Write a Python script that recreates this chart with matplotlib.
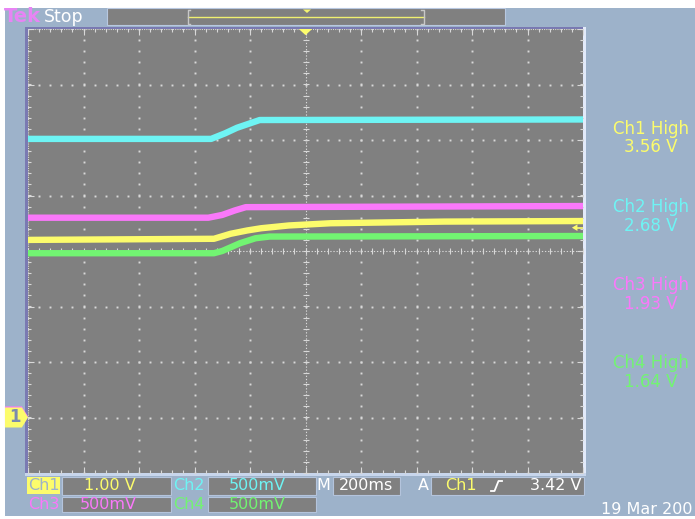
import numpy as np
import matplotlib
matplotlib.use("Agg")
import matplotlib.pyplot as plt
from matplotlib.patches import Rectangle, Polygon

# ---------------- data ----------------
seconds_per_div = 0.2
ground_div = -3.0                      # all channel ground markers at -3 div
channels = ["Ch1", "Ch2", "Ch3", "Ch4"]
volts_per_div = [1.0, 0.5, 0.5, 0.5]
scale_labels = ["1.00 V", "500mV", "500mV", "500mV"]
high_labels = ["3.56 V", "2.68 V", "1.93 V", "1.64 V"]
timebase_label = "200ms"
trigger_source = "Ch1"
trigger_level_v = 3.42
trigger_label = "3.42 V"
date_label = "19 Mar 200"

ch1_t = [-1.0, -0.33, -0.27, -0.21, -0.16, -0.06, 0.09, 0.5, 1.0]
ch1_v = [3.20, 3.22, 3.31, 3.37, 3.41, 3.46, 3.50, 3.53, 3.54]

ch2_t = [-1.0, -0.34, -0.29, -0.247, -0.20, -0.165, 1.0]
ch2_v = [2.51, 2.51, 2.56, 2.61, 2.65, 2.68, 2.685]

ch3_t = [-1.0, -0.35, -0.30, -0.255, -0.215, 1.0]
ch3_v = [1.80, 1.80, 1.825, 1.865, 1.895, 1.905]

ch4_t = [-1.0, -0.33, -0.30, -0.236, -0.18, -0.13, 1.0]
ch4_v = [1.48, 1.48, 1.50, 1.57, 1.615, 1.63, 1.635]

traces_t = [ch1_t, ch2_t, ch3_t, ch4_t]
traces_v = [ch1_v, ch2_v, ch3_v, ch4_v]

# ---------------- style ----------------
W, H = 695, 519
BLUE = "#9db2ca"
GRAY = "#808080"
DOT = "#d8d8d8"
colors = {"Ch1": "#fcfc6c", "Ch2": "#6ef4f4", "Ch3": "#fa78fa", "Ch4": "#72f472"}
FONT = "DejaVu Sans"

fig = plt.figure(figsize=(W / 100, H / 100), dpi=100, facecolor="white")

# background / frame axes in pixel coordinates (y down)
bg = fig.add_axes([0, 0, 1, 1], zorder=0)
bg.set_xlim(0, W)
bg.set_ylim(H, 0)
bg.axis("off")
bg.add_patch(Rectangle((5, 8), W - 5, 508, color=BLUE, lw=0))

# plot-area bevel
bg.add_patch(Rectangle((25, 27), 3, 449, color="#7a7ab2", lw=0))
bg.add_patch(Rectangle((25, 27), 560, 2.5, color="#7a7ab2", lw=0))
bg.add_patch(Rectangle((583, 27), 3, 449, color="#e2eafa", lw=0))
bg.add_patch(Rectangle((25, 473), 561, 3, color="#c8d6ec", lw=0))

# top status bar
bg.text(4, 16.5, "Tek", color="#e784f4", fontsize=14, fontweight="bold",
        family=FONT, ha="left", va="center")
bg.text(44, 16.5, "Stop", color="white", fontsize=12.5, family=FONT,
        ha="left", va="center")
bg.add_patch(Rectangle((107, 8), 398, 17, facecolor=GRAY, edgecolor="#b8c8e0", lw=0.8))
bg.plot([188, 424], [16.7, 16.7], color="#f0f070", lw=1.0)
bg.plot([190, 187.5, 187.5, 190], [10, 10, 24, 24], color="#c8c8c8", lw=1.0)
bg.plot([421, 423.5, 423.5, 421], [10, 10, 24, 24], color="#c8c8c8", lw=1.0)
bg.add_patch(Polygon([[303, 9.5], [311, 9.5], [307, 13]], closed=True,
                     color="#f4f470", lw=0))

# right-hand measurements
meas_y = [(129, 147), (207, 226), (285, 304), (363, 382)]
for ch, hl, (y1, y2) in zip(channels, high_labels, meas_y):
    bg.text(651, y1, f"{ch} High", color=colors[ch], fontsize=12, family=FONT,
            ha="center", va="center")
    bg.text(651, y2, hl, color=colors[ch], fontsize=12, family=FONT,
            ha="center", va="center")

# bottom readouts
fs = 11.5
def box(x0, y0, x1, y1):
    bg.add_patch(Rectangle((x0, y0), x1 - x0, y1 - y0, facecolor=GRAY,
                           edgecolor="#b4c4dc", lw=0.8))

r1, r2 = (477, 495), (497, 512)
c1 = (r1[0] + r1[1]) / 2
c2 = (r2[0] + r2[1]) / 2
bg.add_patch(Rectangle((27, 477), 33, 17, color=colors["Ch1"], lw=0))
bg.text(43.5, c1, "Ch1", color=BLUE, fontsize=fs, family=FONT, ha="center", va="center")
box(62, 477, 171, 495)
bg.text(110, c1, scale_labels[0], color=colors["Ch1"], fontsize=fs, family=FONT,
        ha="center", va="center")
bg.text(189, c1, "Ch2", color=colors["Ch2"], fontsize=fs, family=FONT, ha="center", va="center")
box(208, 477, 316, 495)
bg.text(257, c1, scale_labels[1], color=colors["Ch2"], fontsize=fs, family=FONT,
        ha="center", va="center")
bg.text(323, c1, "M", color="white", fontsize=fs, family=FONT, ha="center", va="center")
box(333, 477, 400, 495)
bg.text(366, c1, timebase_label, color="white", fontsize=fs, family=FONT,
        ha="center", va="center")
bg.text(423, c1, "A", color="white", fontsize=fs, family=FONT, ha="center", va="center")
box(431, 477, 584, 495)
bg.text(461, c1, trigger_source, color=colors[trigger_source], fontsize=fs, family=FONT,
        ha="center", va="center")
bg.plot([491, 494.5, 498.5, 502], [491, 491, 481, 481], color="white", lw=1.3)
bg.text(581, c1, trigger_label, color="white", fontsize=fs, family=FONT,
        ha="right", va="center")

bg.text(43.5, c2, "Ch3", color=colors["Ch3"], fontsize=fs, family=FONT, ha="center", va="center")
box(62, 497, 171, 512)
bg.text(108, c2, scale_labels[2], color=colors["Ch3"], fontsize=fs, family=FONT,
        ha="center", va="center")
bg.text(189, c2, "Ch4", color=colors["Ch4"], fontsize=fs, family=FONT, ha="center", va="center")
box(208, 497, 316, 512)
bg.text(257, c2, scale_labels[3], color=colors["Ch4"], fontsize=fs, family=FONT,
        ha="center", va="center")
bg.text(601, 510, date_label, color="white", fontsize=11.5, family=FONT,
        ha="left", va="center")

# ---------------- graticule axes (divisions) ----------------
ax = fig.add_axes([28 / W, (H - 473) / H, 555 / W, 444 / H], zorder=2)
ax.set_facecolor(GRAY)
ax.set_xlim(-5, 5)
ax.set_ylim(-4, 4)
ax.set_xticks([])
ax.set_yticks([])
for s in ax.spines.values():
    s.set_visible(False)

xm = np.arange(-5, 5.0001, 0.2)
ym = np.arange(-4, 4.0001, 0.2)
for xv in [-4, -3, -2, -1, 1, 2, 3, 4]:
    ax.plot(np.full_like(ym, xv), ym, ls="none", marker="s", ms=1.4, mew=0, color=DOT, zorder=1)
for yv in [-3, -2, -1, 1, 2, 3]:
    ax.plot(xm, np.full_like(xm, yv), ls="none", marker="s", ms=1.4, mew=0, color=DOT, zorder=1)

# center cross with ticks
ax.axhline(0, color=DOT, lw=0.8, ls=(0, (1.2, 1.6)), zorder=1)
ax.axvline(0, color=DOT, lw=0.8, ls=(0, (1.2, 1.6)), zorder=1)
ax.plot(xm, np.zeros_like(xm), ls="none", marker="|", ms=5, mew=0.8, color=DOT, zorder=1)
ax.plot(np.zeros_like(ym), ym, ls="none", marker="_", ms=5, mew=0.8, color=DOT, zorder=1)

# edge ticks
ax.plot(xm, np.full_like(xm, 4), ls="none", marker="|", ms=4.5, mew=0.8, color=DOT, zorder=1)
ax.plot(xm, np.full_like(xm, -4), ls="none", marker="|", ms=4.5, mew=0.8, color=DOT, zorder=1)
ax.plot(np.full_like(ym, -5), ym, ls="none", marker="_", ms=4.5, mew=0.8, color=DOT, zorder=1)
ax.plot(np.full_like(ym, 5), ym, ls="none", marker="_", ms=4.5, mew=0.8, color=DOT, zorder=1)
xmaj = np.arange(-5, 5.001, 1.0)
ymaj = np.arange(-4, 4.001, 1.0)
ax.plot(xmaj, np.full_like(xmaj, 4), ls="none", marker="|", ms=9, mew=0.8, color=DOT, zorder=1)
ax.plot(xmaj, np.full_like(xmaj, -4), ls="none", marker="|", ms=9, mew=0.8, color=DOT, zorder=1)
ax.plot(np.full_like(ymaj, -5), ymaj, ls="none", marker="_", ms=9, mew=0.8, color=DOT, zorder=1)
ax.plot(np.full_like(ymaj, 5), ymaj, ls="none", marker="_", ms=9, mew=0.8, color=DOT, zorder=1)
ax.axhline(4, color=DOT, lw=0.8, ls=(0, (1, 1)), zorder=1)
ax.axvline(-5, color=DOT, lw=0.8, ls=(0, (1, 1)), zorder=1)

# traces (drawn Ch4 first)
for ch, vd, tt, vv in reversed(list(zip(channels, volts_per_div, traces_t, traces_v))):
    x = np.asarray(tt) / seconds_per_div
    y = np.asarray(vv) / vd + ground_div
    ax.plot(x, y, color=colors[ch], lw=4.6, solid_capstyle="butt",
            solid_joinstyle="round", zorder=3)

# trigger position marker (top, t = 0)
ax.add_patch(Polygon([[-0.12, 4.0], [0.12, 4.0], [0.0, 3.89]], closed=True,
                     color=colors["Ch1"], lw=0, zorder=5, clip_on=False))

# trigger level marker (right edge)
tl = trigger_level_v / volts_per_div[0] + ground_div
ax.add_patch(Polygon([[4.8, tl], [4.9, tl + 0.06], [4.9, tl - 0.06]], closed=True,
                     color=colors["Ch1"], lw=0, zorder=5))
ax.plot([4.85, 5.0], [tl, tl], color=colors["Ch1"], lw=1.2, zorder=5)

# ground marker "1"
g = ground_div
mag = Polygon([[-5.415, g + 0.20], [-5.11, g + 0.20], [-5.0, g + 0.02],
               [-5.11, g - 0.16], [-5.415, g - 0.16]], closed=True,
              color=colors["Ch3"], lw=0, zorder=5, clip_on=False)
ax.add_patch(mag)
gm = Polygon([[-5.415, g + 0.18], [-5.11, g + 0.18], [-5.0, g],
              [-5.11, g - 0.18], [-5.415, g - 0.18]], closed=True,
             color=colors["Ch1"], lw=0, zorder=6, clip_on=False)
ax.add_patch(gm)
ax.text(-5.24, g, "1", color="#7c8cae", fontsize=12, fontweight="bold", family=FONT,
        ha="center", va="center", zorder=7, clip_on=False)

fig.savefig("out.png", dpi=100, facecolor="white")
